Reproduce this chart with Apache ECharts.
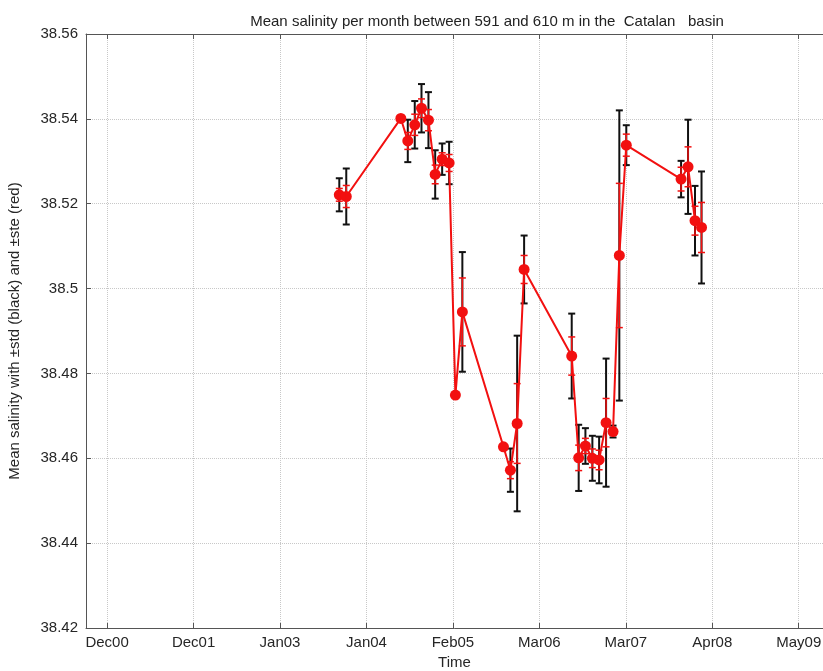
<!DOCTYPE html>
<html>
<head>
<meta charset="utf-8">
<script src="https://cdn.jsdelivr.net/npm/echarts@6/dist/echarts.min.js"></script>
<style>
  html, body { margin: 0; padding: 0; background: #fff; }
  #chart { width: 823px; height: 671px; }
</style>
</head>
<body>
<div id="chart"></div>
<script>
// tick labels along the time axis (one every 385 days, starting 1 Dec 2000)
const tickLabels = ['Dec00', 'Dec01', 'Jan03', 'Jan04', 'Feb05', 'Mar06', 'Mar07', 'Apr08', 'May09'];

// monthly means
const months = [
  '2003-10', '2003-11', '2004-07', '2004-08', '2004-09', '2004-10', '2004-11', '2004-12',
  '2005-01', '2005-02', '2005-03', '2005-04', '2005-10', '2005-11', '2005-12', '2006-01',
  '2006-08', '2006-09', '2006-10', '2006-11', '2006-12', '2007-01', '2007-02', '2007-03',
  '2007-04', '2007-12', '2008-01', '2008-02', '2008-03',
];
const salinity = [
  38.5221, 38.5217, 38.5401, 38.5348, 38.5386, 38.5425, 38.5397, 38.5269,
  38.5305, 38.5296, 38.4749, 38.4945, 38.4627, 38.4572, 38.4682, 38.5045,
  38.4841, 38.4601, 38.4629, 38.4600, 38.4596, 38.4684, 38.4663, 38.5078,
  38.5338, 38.5258, 38.5287, 38.5160, 38.5144,
];
const stdDev = [
  0.0039, 0.0066, 0, 0.0050, 0.0056, 0.0057, 0.0066, 0.0057,
  0.0037, 0.0050, 0, 0.0141, 0, 0.0051, 0.0207, 0.0080,
  0.0100, 0.0078, 0.0042, 0.0053, 0.0055, 0.0151, 0.0014, 0.0342,
  0.0047, 0.0043, 0.0111, 0.0082, 0.0132,
];
const stdErr = [
  0.0015, 0.0026, 0, 0.0020, 0.0025, 0.0022, 0.0025, 0.0022,
  0.0015, 0.0020, 0, 0.0080, 0, 0.0020, 0.0094, 0.0033,
  0.0045, 0.0030, 0.0018, 0.0022, 0.0023, 0.0057, 0.0008, 0.0170,
  0.0026, 0.0028, 0.0047, 0.0034, 0.0059,
];

const DAY = 86400000;
const TICK0 = Date.UTC(2000, 11, 1);
const TICK_STEP = 385;
const toX = (m) => {
  const [y, mo] = m.split('-').map(Number);
  return (Date.UTC(y, mo - 1, 1) - TICK0) / DAY;
};
const tickValues = tickLabels.map((_, i) => i * TICK_STEP);

const errorData = (err) => months
  .map((m, i) => [toX(m), salinity[i] - err[i], salinity[i] + err[i]])
  .filter((d, i) => err[i] > 0);

const errorBar = (color, width, half) => (params, api) => {
  const x = api.value(0);
  const lo = api.coord([x, api.value(1)]);
  const hi = api.coord([x, api.value(2)]);
  const style = { stroke: color, lineWidth: width };
  return {
    type: 'group',
    children: [
      { type: 'line', shape: { x1: lo[0], y1: lo[1], x2: hi[0], y2: hi[1] }, style },
      { type: 'line', shape: { x1: lo[0] - half, y1: lo[1], x2: lo[0] + half, y2: lo[1] }, style },
      { type: 'line', shape: { x1: hi[0] - half, y1: hi[1], x2: hi[0] + half, y2: hi[1] }, style },
    ],
  };
};

const font = 'Liberation Sans, Arial, sans-serif';
const chart = echarts.init(document.getElementById('chart'));
chart.setOption({
  animation: false,
  textStyle: { fontFamily: font },
  title: {
    text: 'Mean salinity per month between 591 and 610 m in the  Catalan   basin',
    left: 482,
    top: 9,
    textAlign: 'center',
    textStyle: { fontSize: 15, fontWeight: 'normal', color: '#222', fontFamily: font },
  },
  grid: { left: 86, right: 0, top: 34, bottom: 43, containLabel: false, outerBoundsMode: 'none' },
  xAxis: [
    {
      type: 'value',
      min: -94,
      max: 3188,
      name: 'Time',
      nameLocation: 'middle',
      nameGap: 27,
      nameTextStyle: { fontSize: 15, color: '#262626' },
      axisLine: { show: true, onZero: false, lineStyle: { color: '#555', width: 1 } },
      axisTick: { show: true, inside: true, length: 5, customValues: tickValues, lineStyle: { color: '#555' } },
      axisLabel: {
        customValues: tickValues,
        fontSize: 15,
        color: '#262626',
        margin: 7,
        formatter: (v) => tickLabels[Math.round(v / TICK_STEP)] || '',
      },
      splitLine: { show: true, lineStyle: { color: '#c8c8c8', type: 'dotted' } },
    },
    {
      type: 'value',
      position: 'top',
      min: -94,
      max: 3188,
      axisLine: { show: true, onZero: false, lineStyle: { color: '#555', width: 1 } },
      axisTick: { show: true, inside: true, length: 5, customValues: tickValues, lineStyle: { color: '#555' } },
      axisLabel: { show: false },
      splitLine: { show: false },
    },
  ],
  yAxis: {
    type: 'value',
    min: 38.42,
    max: 38.56,
    interval: 0.02,
    name: 'Mean salinity with \u00b1std (black) and \u00b1ste (red)',
    nameLocation: 'middle',
    nameGap: 64,
    nameTextStyle: { fontSize: 15, color: '#262626' },
    axisLine: { show: true, onZero: false, lineStyle: { color: '#555', width: 1 } },
    axisTick: { show: true, inside: true, length: 5, lineStyle: { color: '#555' } },
    axisLabel: { fontSize: 15, color: '#262626', margin: 8 },
    splitLine: { show: true, lineStyle: { color: '#c8c8c8', type: 'dotted' } },
  },
  series: [
    {
      name: 'std',
      type: 'custom',
      renderItem: errorBar('#111', 2, 3.5),
      encode: { x: 0, y: [1, 2] },
      data: errorData(stdDev),
      z: 2,
    },
    {
      name: 'mean',
      type: 'line',
      data: months.map((m, i) => [toX(m), salinity[i]]),
      symbol: 'circle',
      symbolSize: 11,
      itemStyle: { color: '#f21010' },
      lineStyle: { color: '#f21010', width: 2 },
      z: 3,
    },
    {
      name: 'ste',
      type: 'custom',
      renderItem: errorBar('#f21010', 1.5, 3.5),
      encode: { x: 0, y: [1, 2] },
      data: errorData(stdErr),
      z: 4,
    },
  ],
});
</script>
</body>
</html>
